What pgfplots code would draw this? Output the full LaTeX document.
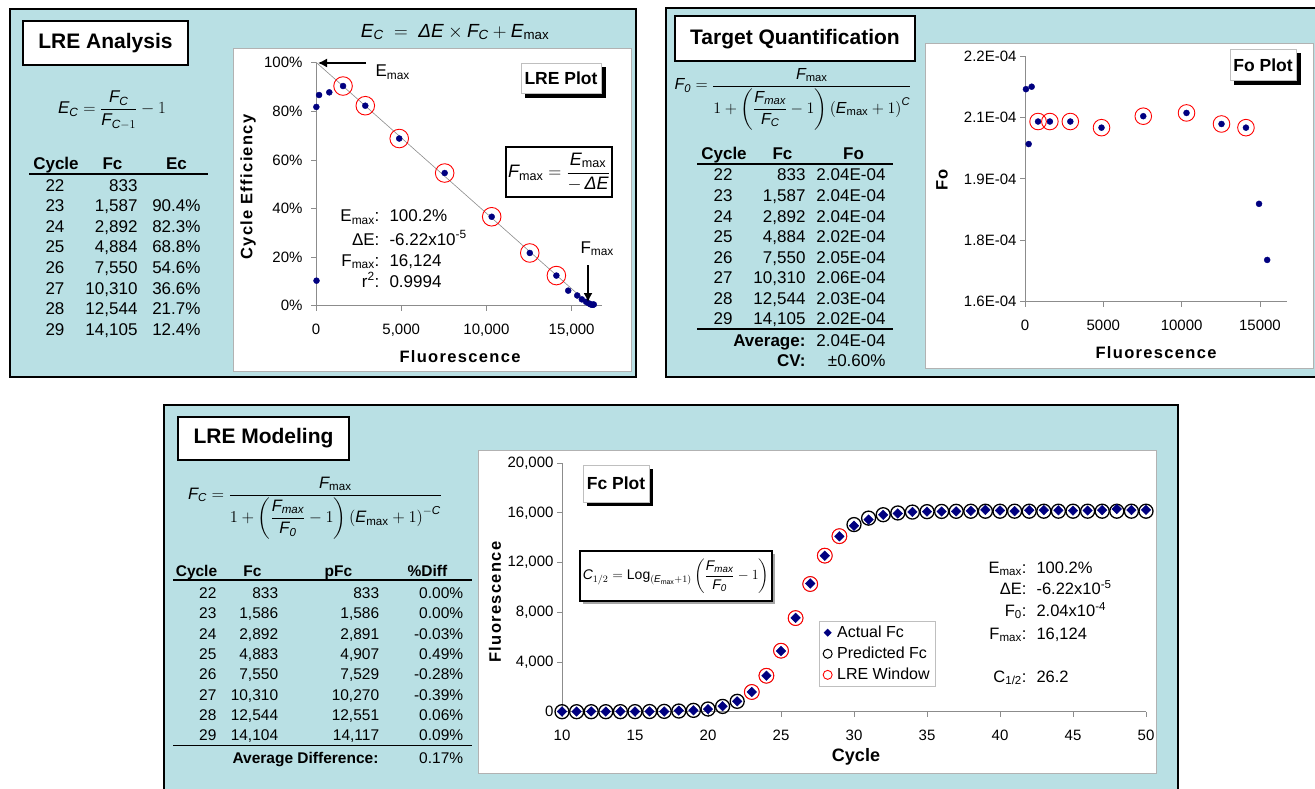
\RequirePackage{fix-cm}
\documentclass[border=0pt]{standalone}
\usepackage{fontspec}
\setmainfont{Liberation Sans}
\newfontfamily\lblfont[LetterSpace=8]{Liberation Sans}
\usepackage{amsmath}
\usepackage{pgfplots}
\pgfplotsset{compat=1.18}
\usetikzlibrary{arrows.meta}
\definecolor{panelblue}{RGB}{185,224,228}
\definecolor{navy}{RGB}{0,0,128}
\newcommand{\fs}[1]{\fontsize{#1}{#1}\selectfont}
\newcommand{\iv}[1]{\text{\itshape #1}}
\pgfplotsset{exc/.style={scale only axis, clip=false, anchor=south west,
  axis x line*=bottom, axis y line*=left,
  axis line style={draw=black!45, line width=0.8pt, -},
  every tick/.style={draw=black!45, line width=0.8pt},
  tick align=outside, major tick length=5pt,
  ticklabel style={font=\fs{15}},
  xticklabel style={yshift=-10pt},
  scaled x ticks=false, scaled y ticks=false}}
\begin{document}
\begin{tikzpicture}
\useasboundingbox (0pt,0pt) rectangle (1315pt,-789pt);
\clip (0pt,0pt) rectangle (1315pt,-789pt);
\begin{scope}[x=1pt,y=-1pt]
\fill[white] (0,0) rectangle (1315,789);
% panel 1
\draw[line width=2pt, fill=panelblue] (10,9) rectangle (636,377);
\draw[draw=black!30, fill=white] (233,48) rectangle (631,371);
% panel 2
\draw[line width=2pt, fill=panelblue] (666,8) rectangle (1330,377);
\draw[draw=black!30, fill=white] (925,43) rectangle (1313,368);
% panel 3
\draw[line width=2pt, fill=panelblue] (164,405) rectangle (1178,800);
\draw[draw=black!30, fill=white] (478,450) rectangle (1156,773);
\end{scope}

% ---------------- LRE plot
\begin{axis}[exc, at={(316pt,-305.7pt)}, width=286.3pt, height=243pt,
  xmin=0, xmax=16800, ymin=0, ymax=100,
  yticklabel style={xshift=-5pt},
  xtick={0,5000,10000,15000}, xticklabels={0,{5,000},{10,000},{15,000}},
  ytick={0,20,40,60,80,100}, yticklabels={0\%,20\%,40\%,60\%,80\%,100\%}]
\addplot[black!45, line width=0.6pt] coordinates {(0,100.2) (16124,0)};
\addplot[only marks, mark=*, mark size=3, draw=navy, fill=navy] coordinates {
(30,10.3) (20,81.8) (180,86.7) (780,87.8) (1587,90.4) (2892,82.3) (4884,68.8)
(7550,54.6) (10310,36.6) (12544,21.7) (14105,12.4) (14800,6.2) (15330,4.2)
(15600,2.6) (15850,1.6) (16000,1.0) (16100,0.6) (16180,0.4) (16250,0.4) (16300,0.5)};
\addplot[only marks, mark=o, mark size=9.3, red, line width=0.9pt] coordinates {
(1587,90.4) (2892,82.3) (4884,68.8) (7550,54.6) (10310,36.6) (12544,21.7) (14105,12.4)};
\end{axis}

% ---------------- Fo plot
\begin{axis}[exc, at={(1025pt,-301.7pt)}, width=261.6pt, height=245.7pt,
  xmin=0, xmax=16700, ymin=1.6e-4, ymax=2.2e-4,
  xtick={0,5000,10000,15000}, xticklabels={0,5000,10000,15000},
  ytick={1.6e-4,1.75e-4,1.9e-4,2.05e-4,2.2e-4},
  yticklabels={1.6E-04,1.8E-04,1.9E-04,2.1E-04,2.2E-04}]
\addplot[only marks, mark=*, mark size=3, draw=navy, fill=navy] coordinates {
(60,2.119e-4) (234,1.985e-4) (425,2.125e-4) (833,2.040e-4) (1587,2.040e-4)
(2892,2.040e-4) (4884,2.025e-4) (7550,2.053e-4) (10310,2.061e-4) (12544,2.034e-4)
(14105,2.025e-4) (14940,1.839e-4) (15460,1.702e-4)};
\addplot[only marks, mark=o, mark size=8.3, red, line width=0.9pt] coordinates {
(833,2.040e-4) (1587,2.040e-4) (2892,2.040e-4) (4884,2.025e-4) (7550,2.053e-4)
(10310,2.061e-4) (12544,2.034e-4) (14105,2.025e-4)};
\end{axis}

% ---------------- Fc plot
\begin{axis}[exc, at={(562pt,-711.7pt)}, width=584pt, height=248.7pt,
  xmin=10, xmax=50, ymin=0, ymax=20000,
  xtick={10,15,20,25,30,35,40,45,50},
  xticklabels={10,15,20,25,30,35,40,45,50},
  ytick={0,4000,8000,12000,16000,20000},
  yticklabels={0,{4,000},{8,000},{12,000},{16,000},{20,000}},
  legend style={at={(0.440,0.365)}, anchor=north west, draw=black!25, fill=white,
    font=\fs{16}, row sep=4pt, inner xsep=4pt, inner ysep=3pt,
    /tikz/every odd column/.style={column sep=3pt}},
  legend cell align=left]
\addlegendimage{only marks, mark=square*, mark size=2.6, mark options={rotate=45}, draw=navy, fill=navy}
\addlegendimage{only marks, mark=o, mark size=4.5, black, line width=1pt}
\addlegendimage{only marks, mark=o, mark size=4.5, red, line width=0.9pt}
\addplot[forget plot, only marks, mark=o, mark size=7, black, line width=1.3pt] coordinates {
(10,0.2) (11,0.4) (12,0.8) (13,1.7) (14,3.4) (15,6.8) (16,13.6) (17,27) (18,54)
(19,108) (20,215) (21,425) (22,833) (23,1586) (24,2891) (25,4907) (26,7529)
(27,10270) (28,12551) (29,14117) (30,15049) (31,15568) (32,15842) (33,15982)
(34,16053) (35,16088) (36,16106) (37,16115) (38,16120) (39,16122) (40,16123)
(41,16124) (42,16124) (43,16124) (44,16124) (45,16124) (46,16124) (47,16124)
(48,16124) (49,16124) (50,16124)};
\addplot[forget plot, only marks, mark=*, mark size=7.4, draw=red, fill=white, line width=1pt] coordinates {
(23,1586) (24,2891) (25,4907) (26,7529) (27,10270) (28,12551) (29,14117)};
\addplot[forget plot, only marks, mark=square*, mark size=3.4, mark options={rotate=45}, draw=navy, fill=navy] coordinates {
(10,20) (11,15) (12,25) (13,10) (14,30) (15,10) (16,20) (17,15) (18,90) (19,112)
(20,209) (21,441) (22,833) (23,1586) (24,2892) (25,4883) (26,7550) (27,10310)
(28,12544) (29,14104) (30,14950) (31,15450) (32,15830) (33,15940) (34,16060)
(35,16090) (36,16100) (37,16110) (38,16150) (39,16230) (40,16180) (41,16130)
(42,16200) (43,16210) (44,16200) (45,16170) (46,16180) (47,16210) (48,16300)
(49,16220) (50,16230)};
\legend{Actual Fc, Predicted Fc, LRE Window}
\end{axis}

\begin{scope}[x=1pt,y=-1pt]
% ===== Panel 1 texts
\draw[line width=1.5pt, fill=white] (23,21) rectangle (188,65);
\node[font=\fs{21}\bfseries] at (105.5,43.5) {LRE Analysis};
\node[font=\fs{19}] at (455,32) {$\iv{E}_{\iv{C}} \;=\; \iv{ΔE}\times\iv{F}_{\iv{C}} + \iv{E}_{\text{max}}$};
\node[font=\fs{17}] at (112,110) {$\iv{E}_{\iv{C}} = \dfrac{\iv{F}_{\iv{C}}}{\iv{F}_{\iv{C}-1}} - 1$};
\begin{scope}[every node/.style={font=\fs{17}}]
\node[anchor=base, font=\fs{17}\bfseries] at (56,170) {Cycle};
\node[anchor=base, font=\fs{17}\bfseries] at (112.5,170) {Fc};
\node[anchor=base, font=\fs{17}\bfseries] at (176.5,170) {Ec};
\draw[line width=1.5pt] (29,174) -- (208,174);
\foreach \c/\f/\e [count=\i from 0] in {22/833/{},23/{1,587}/90.4\%,24/{2,892}/82.3\%,25/{4,884}/68.8\%,26/{7,550}/54.6\%,27/{10,310}/36.6\%,28/{12,544}/21.7\%,29/{14,105}/12.4\%}{
  \node[anchor=base] at (55,191+20.6*\i) {\c};
  \node[anchor=base east] at (141,191+20.6*\i) {\f};
  \node[anchor=base east] at (204,191+20.6*\i) {\e};
}
\end{scope}
% LRE plot annotations
\fill[black] (525,67) rectangle (606,98);
\draw[black!25, fill=white] (521,63) rectangle (601,93.5);
\node[font=\fs{17.5}\bfseries] at (561,78.5) {LRE Plot};
\draw[line width=1.3pt, fill=white] (506,147) rectangle (612,197);
\node[font=\fs{18}] at (559,172) {$\iv{F}_{\text{max}} = \dfrac{\iv{E}_{\text{max}}}{-\,\iv{ΔE}}$};
\begin{scope}[every node/.style={font=\fs{17}}]
\node[anchor=base east] at (383,222) {E\textsubscript{max}:};
\node[anchor=base west] at (386,222) {100.2\%};
\node[anchor=base east] at (383,245) {ΔE:};
\node[anchor=base west] at (386,245) {-6.22x10\textsuperscript{-5}};
\node[anchor=base east] at (383,266) {F\textsubscript{max}:};
\node[anchor=base west] at (386,266) {16,124};
\node[anchor=base east] at (383,287) {r\textsuperscript{2}:};
\node[anchor=base west] at (386,287) {0.9994};
\node[anchor=base west] at (372,77) {E\textsubscript{max}};
\node[anchor=base west] at (577,253) {F\textsubscript{max}};
\end{scope}
\draw[line width=1.5pt, -{Latex[length=9pt,width=9pt]}] (366,63) -- (318,63);
\draw[line width=1.5pt, -{Latex[length=9pt,width=9pt]}] (588,265) -- (588,302);
\node[font=\fs{16.5}\lblfont\bfseries, rotate=90] at (248,187) {Cycle Efficiency};
\node[font=\fs{16.5}\lblfont\bfseries] at (460,357) {Fluorescence};

% ===== Panel 2 texts
\draw[line width=1.5pt, fill=white] (675,16) rectangle (915,61);
\node[font=\fs{21}\bfseries] at (795,39) {Target Quantification};
\node[font=\fs{16}] at (793,99) {$\iv{F}_{\iv{0}} = \dfrac{\iv{F}_{\text{max}}}{1+\left(\dfrac{\iv{F}_{\iv{max}}}{\iv{F}_{\iv{C}}}-1\right)\left(\iv{E}_{\text{max}}+1\right)^{\iv{C}}}$};
\begin{scope}[every node/.style={font=\fs{17}}]
\node[anchor=base, font=\fs{17}\bfseries] at (724,160) {Cycle};
\node[anchor=base, font=\fs{17}\bfseries] at (782.5,160) {Fc};
\node[anchor=base, font=\fs{17}\bfseries] at (853.5,160) {Fo};
\draw[line width=1.5pt] (697,164) -- (893,164);
\foreach \c/\f/\e [count=\i from 0] in {22/833/2.04E-04,23/{1,587}/2.04E-04,24/{2,892}/2.04E-04,25/{4,884}/2.02E-04,26/{7,550}/2.05E-04,27/{10,310}/2.06E-04,28/{12,544}/2.03E-04,29/{14,105}/2.02E-04}{
  \node[anchor=base] at (723,181+20.57*\i) {\c};
  \node[anchor=base east] at (809,181+20.57*\i) {\f};
  \node[anchor=base east] at (889,181+20.57*\i) {\e};
}
\draw[line width=1.5pt] (697,329) -- (893,329);
\node[anchor=base east, font=\fs{17}\bfseries] at (809,346) {Average:};
\node[anchor=base east] at (889,346) {2.04E-04};
\node[anchor=base east, font=\fs{17}\bfseries] at (809,366) {CV:};
\node[anchor=base east] at (889,366) {±0.60\%};
\end{scope}
\fill[black] (1234,53) rectangle (1301,85);
\draw[black!25, fill=white] (1230,49) rectangle (1296,80.7);
\node[font=\fs{17.5}\bfseries] at (1263,65) {Fo Plot};
\node[font=\fs{16.5}\lblfont\bfseries, rotate=90] at (942,180) {Fo};
\node[font=\fs{16.5}\lblfont\bfseries] at (1156,353) {Fluorescence};

% ===== Panel 3 texts
\draw[line width=1.5pt, fill=white] (178,417) rectangle (349,460);
\node[font=\fs{21}\bfseries] at (263.5,438.5) {LRE Modeling};
\node[font=\fs{16.5}] at (315,508) {$\iv{F}_{\iv{C}} = \dfrac{\iv{F}_{\text{max}}}{1+\left(\dfrac{\iv{F}_{\iv{max}}}{\iv{F}_{\iv{0}}}-1\right)\left(\iv{E}_{\text{max}}+1\right)^{-\iv{C}}}$};
\begin{scope}[every node/.style={font=\fs{15.5}}]
\node[anchor=base, font=\fs{15.5}\bfseries] at (196.5,576) {Cycle};
\node[anchor=base, font=\fs{15.5}\bfseries] at (252.5,576) {Fc};
\node[anchor=base, font=\fs{15.5}\bfseries] at (338.5,576) {pFc};
\node[anchor=base, font=\fs{15.5}\bfseries] at (427.5,576) {\%Diff};
\draw[line width=1.5pt] (173,580) -- (472,580);
\foreach \c/\f/\p/\d [count=\i from 0] in {22/833/833/0.00\%,23/{1,586}/{1,586}/0.00\%,24/{2,892}/{2,891}/-0.03\%,25/{4,883}/{4,907}/0.49\%,26/{7,550}/{7,529}/-0.28\%,27/{10,310}/{10,270}/-0.39\%,28/{12,544}/{12,551}/0.06\%,29/{14,104}/{14,117}/0.09\%}{
  \node[anchor=base east] at (220,598.3+20.35*\i) {\c};
  \node[anchor=base east] at (281.7,598.3+20.35*\i) {\f};
  \node[anchor=base east] at (382.7,598.3+20.35*\i) {\p};
  \node[anchor=base east] at (466.7,598.3+20.35*\i) {\d};
}
\draw[line width=1.5pt] (173,745.7) -- (472,745.7);
\node[anchor=base east, font=\fs{15.5}\bfseries] at (382,763.3) {Average Difference:};
\node[anchor=base east] at (466.7,763.3) {0.17\%};
\end{scope}
\fill[black] (587,469) rectangle (653,506);
\draw[black!25, fill=white] (583,465) rectangle (649,502);
\node[font=\fs{17.5}\bfseries] at (616,483.5) {Fc Plot};
\fill[black!35] (583,554) rectangle (775,604);
\draw[line width=1.3pt, fill=white] (580,551) rectangle (772,601);
\node[font=\fs{14}] at (676,576) {$\iv{C}_{1/2} = \text{Log}_{(\iv{E}_{\text{max}}+1)}\left(\dfrac{\iv{F}_{\iv{max}}}{\iv{F}_{\iv{0}}}-1\right)$};
\begin{scope}[every node/.style={font=\fs{16.5}}]
\node[anchor=base east] at (1030,573) {E\textsubscript{max}:};
\node[anchor=base west] at (1033,573) {100.2\%};
\node[anchor=base east] at (1030,594) {ΔE:};
\node[anchor=base west] at (1033,594) {-6.22x10\textsuperscript{-5}};
\node[anchor=base east] at (1030,616) {F\textsubscript{0}:};
\node[anchor=base west] at (1033,616) {2.04x10\textsuperscript{-4}};
\node[anchor=base east] at (1030,639) {F\textsubscript{max}:};
\node[anchor=base west] at (1033,639) {16,124};
\node[anchor=base east] at (1030,682) {C\textsubscript{1/2}:};
\node[anchor=base west] at (1033,682) {26.2};
\end{scope}
\node[font=\fs{16.5}\lblfont\bfseries, rotate=90] at (495,602) {Fluorescence};
\node[font=\fs{18}\bfseries] at (856,757) {Cycle};
\end{scope}
\end{tikzpicture}
\end{document}
